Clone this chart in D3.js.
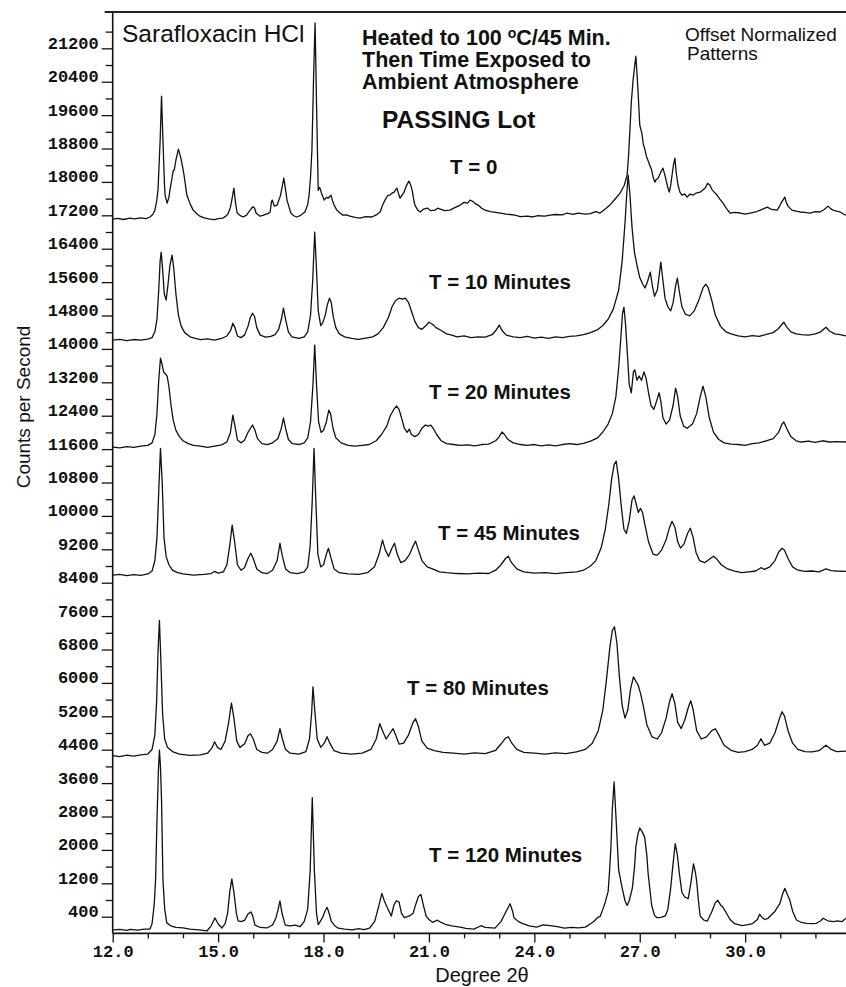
<!DOCTYPE html>
<html><head><meta charset="utf-8">
<script src="https://cdn.jsdelivr.net/npm/d3@7"></script>
<style>
  body { margin: 0; background: #fff; }
  svg { display: block; }
</style>
</head><body>
<svg id="chart" width="846" height="987"></svg>
<script>
// Powder X-ray diffraction patterns: [2θ (degrees), counts above the pattern's own baseline].
// Each pattern is drawn raised by its offset (counts per second).
const patternT0 = [[12.01,0],[12.15,15],[12.3,-10],[12.49,25],[12.62,5],[12.8,30],[12.95,10],[13.06,50],[13.14,110],[13.2,215],[13.25,420],[13.29,700],[13.35,1890],[13.39,2945],[13.43,1890],[13.47,900],[13.49,575],[13.55,380],[13.6,520],[13.63,700],[13.69,990],[13.72,1150],[13.75,1175],[13.8,1415],[13.87,1675],[13.94,1460],[14.0,1200],[14.03,1055],[14.11,575],[14.2,370],[14.29,215],[14.4,120],[14.48,70],[14.6,30],[14.77,0],[14.9,-15],[15.0,10],[15.14,25],[15.22,70],[15.28,120],[15.35,280],[15.4,500],[15.45,740],[15.49,430],[15.54,145],[15.62,90],[15.71,50],[15.81,95],[15.91,215],[15.99,295],[16.04,260],[16.08,145],[16.19,70],[16.28,90],[16.36,120],[16.42,130],[16.48,170],[16.52,420],[16.54,455],[16.6,310],[16.68,335],[16.77,550],[16.83,800],[16.87,980],[16.92,700],[16.96,455],[17.07,145],[17.15,80],[17.24,50],[17.35,90],[17.47,170],[17.55,350],[17.59,580],[17.63,1000],[17.67,1650],[17.72,3500],[17.76,4700],[17.8,2800],[17.85,685],[17.88,760],[17.9,740],[17.95,600],[18.02,455],[18.08,520],[18.13,500],[18.21,575],[18.26,430],[18.3,335],[18.38,215],[18.46,150],[18.55,95],[18.65,100],[18.75,70],[18.9,40],[19.04,25],[19.2,60],[19.38,50],[19.5,100],[19.61,170],[19.68,330],[19.75,455],[19.82,560],[19.89,575],[19.95,620],[20.01,645],[20.05,700],[20.09,740],[20.13,620],[20.18,500],[20.24,580],[20.29,645],[20.36,800],[20.43,910],[20.48,820],[20.52,700],[20.56,500],[20.6,335],[20.68,220],[20.75,170],[20.85,240],[20.95,265],[21.05,200],[21.17,215],[21.25,260],[21.32,240],[21.45,200],[21.6,215],[21.75,280],[21.89,335],[22.0,400],[22.1,380],[22.17,455],[22.25,420],[22.32,370],[22.4,335],[22.5,260],[22.6,215],[22.75,180],[22.9,160],[23.03,145],[23.2,120],[23.45,95],[23.6,60],[23.8,70],[23.96,50],[24.1,80],[24.3,70],[24.45,95],[24.6,110],[24.8,100],[24.93,145],[25.1,110],[25.25,140],[25.44,120],[25.6,130],[25.75,180],[25.87,145],[26.0,230],[26.15,335],[26.3,480],[26.44,620],[26.56,810],[26.64,1050],[26.68,1500],[26.72,2125],[26.76,2800],[26.81,3325],[26.86,3700],[26.89,3900],[26.92,3500],[26.95,3090],[27.0,2255],[27.03,2150],[27.06,2060],[27.1,1800],[27.15,1655],[27.19,1500],[27.23,1415],[27.28,1300],[27.34,1175],[27.38,1000],[27.43,885],[27.47,950],[27.52,980],[27.56,1050],[27.6,1125],[27.66,1220],[27.7,1100],[27.75,935],[27.8,750],[27.84,645],[27.88,800],[27.92,1055],[27.96,1300],[28.0,1460],[28.04,1100],[28.09,810],[28.14,650],[28.2,575],[28.28,600],[28.35,525],[28.43,600],[28.52,575],[28.6,620],[28.72,645],[28.8,700],[28.86,740],[28.93,860],[29.0,810],[29.06,700],[29.12,645],[29.2,575],[29.28,480],[29.37,380],[29.47,250],[29.57,145],[29.7,160],[29.86,145],[30.0,120],[30.14,145],[30.3,170],[30.43,215],[30.53,250],[30.63,285],[30.75,230],[30.91,215],[30.97,290],[31.02,380],[31.08,460],[31.13,525],[31.17,400],[31.22,310],[31.33,215],[31.45,190],[31.56,170],[31.7,160],[31.84,145],[32.0,180],[32.13,170],[32.25,230],[32.36,310],[32.43,250],[32.5,215],[32.6,190],[32.7,170],[32.8,120],[32.87,95]];

const patternT10 = [[12.01,0],[12.2,20],[12.4,-10],[12.6,15],[12.8,0],[13.0,25],[13.12,60],[13.2,200],[13.26,500],[13.31,1200],[13.35,1900],[13.38,2110],[13.42,1700],[13.47,1100],[13.52,960],[13.57,1300],[13.63,1800],[13.69,2035],[13.74,1700],[13.8,1100],[13.87,600],[13.95,330],[14.05,180],[14.2,80],[14.35,40],[14.5,10],[14.7,30],[14.9,0],[15.1,40],[15.25,100],[15.35,220],[15.42,405],[15.48,300],[15.55,100],[15.65,60],[15.75,120],[15.85,330],[15.92,550],[15.98,645],[16.04,560],[16.1,300],[16.2,120],[16.35,70],[16.5,90],[16.62,130],[16.72,250],[16.8,500],[16.86,765],[16.92,500],[17.0,200],[17.1,80],[17.3,40],[17.45,80],[17.55,200],[17.63,600],[17.69,1400],[17.75,2585],[17.8,1700],[17.85,700],[17.92,350],[17.98,420],[18.05,600],[18.11,850],[18.17,1005],[18.22,900],[18.28,550],[18.35,300],[18.45,150],[18.6,80],[18.8,40],[19.0,20],[19.2,50],[19.4,80],[19.55,150],[19.7,300],[19.85,550],[19.95,800],[20.05,950],[20.15,1005],[20.25,980],[20.33,1005],[20.42,900],[20.5,700],[20.6,450],[20.7,300],[20.8,260],[20.92,350],[21.0,430],[21.1,380],[21.2,300],[21.35,230],[21.5,150],[21.65,120],[21.8,80],[22.0,100],[22.2,60],[22.4,80],[22.6,70],[22.8,130],[22.92,250],[23.0,360],[23.08,230],[23.2,120],[23.4,80],[23.6,60],[23.8,90],[24.0,50],[24.2,70],[24.4,40],[24.6,80],[24.8,60],[25.0,90],[25.2,100],[25.4,130],[25.6,180],[25.8,250],[25.95,350],[26.1,500],[26.25,750],[26.4,1200],[26.5,1900],[26.58,2800],[26.63,3500],[26.67,3950],[26.72,3500],[26.78,2700],[26.85,2100],[26.92,1800],[27.0,1500],[27.08,1350],[27.15,1250],[27.22,1400],[27.3,1630],[27.36,1300],[27.42,1050],[27.5,1200],[27.56,1600],[27.6,1870],[27.65,1500],[27.72,1000],[27.8,800],[27.88,700],[27.95,900],[28.02,1300],[28.07,1485],[28.12,1200],[28.2,800],[28.3,620],[28.42,580],[28.55,700],[28.7,1000],[28.8,1250],[28.88,1340],[28.95,1250],[29.05,950],[29.15,600],[29.3,330],[29.45,200],[29.6,150],[29.8,100],[30.0,80],[30.2,110],[30.4,90],[30.6,140],[30.8,180],[30.95,280],[31.05,380],[31.1,430],[31.17,330],[31.3,200],[31.45,150],[31.6,130],[31.8,120],[32.0,150],[32.15,200],[32.3,310],[32.4,220],[32.55,150],[32.7,130],[32.87,100]];

const patternT20 = [[12.01,0],[12.2,-20],[12.4,10],[12.6,-10],[12.8,20],[13.0,40],[13.12,100],[13.2,300],[13.26,800],[13.31,1600],[13.36,2130],[13.4,2000],[13.45,1800],[13.5,1750],[13.55,1700],[13.6,1450],[13.66,1000],[13.72,650],[13.8,400],[13.9,250],[14.0,150],[14.15,80],[14.3,40],[14.5,20],[14.7,-10],[14.9,20],[15.1,50],[15.25,120],[15.35,350],[15.42,766],[15.48,500],[15.55,170],[15.65,100],[15.75,160],[15.85,350],[15.92,450],[15.98,527],[16.05,400],[16.12,200],[16.25,80],[16.4,60],[16.55,100],[16.7,200],[16.8,450],[16.86,695],[16.92,450],[17.0,180],[17.12,80],[17.3,60],[17.45,100],[17.55,220],[17.63,600],[17.7,1500],[17.75,2443],[17.8,1500],[17.86,600],[17.93,350],[18.0,400],[18.08,600],[18.15,886],[18.2,800],[18.27,450],[18.35,220],[18.5,100],[18.7,40],[18.9,20],[19.1,40],[19.3,60],[19.5,150],[19.65,300],[19.8,500],[19.9,750],[20.0,900],[20.08,982],[20.15,900],[20.22,700],[20.3,450],[20.38,350],[20.44,430],[20.5,300],[20.6,250],[20.7,300],[20.8,450],[20.9,527],[20.98,500],[21.05,527],[21.12,450],[21.22,300],[21.35,150],[21.5,80],[21.7,60],[21.9,40],[22.1,50],[22.3,30],[22.5,60],[22.7,70],[22.9,150],[23.0,250],[23.08,360],[23.15,300],[23.25,180],[23.4,100],[23.6,60],[23.8,40],[24.0,60],[24.2,30],[24.4,50],[24.6,30],[24.8,60],[25.0,80],[25.2,60],[25.4,90],[25.6,140],[25.8,220],[25.95,360],[26.1,550],[26.22,800],[26.32,1200],[26.4,1900],[26.46,2600],[26.51,3200],[26.55,3353],[26.6,2900],[26.65,2200],[26.7,1500],[26.76,1300],[26.82,1800],[26.86,1850],[26.92,1600],[26.98,1700],[27.05,1600],[27.12,1800],[27.18,1650],[27.25,1300],[27.32,1000],[27.4,900],[27.48,1100],[27.55,1300],[27.6,1100],[27.66,700],[27.75,550],[27.85,650],[27.95,1000],[28.02,1413],[28.08,1200],[28.15,750],[28.25,500],[28.35,450],[28.5,550],[28.62,800],[28.72,1200],[28.8,1460],[28.88,1200],[28.98,700],[29.1,350],[29.25,180],[29.4,100],[29.6,70],[29.8,60],[30.0,40],[30.2,80],[30.4,100],[30.6,150],[30.8,200],[30.95,350],[31.05,550],[31.1,600],[31.18,450],[31.3,250],[31.45,150],[31.6,120],[31.8,140],[32.0,110],[32.2,150],[32.4,120],[32.6,130],[32.87,120]];

const patternT45 = [[12.01,0],[12.2,20],[12.4,-10],[12.6,15],[12.8,-5],[13.0,30],[13.12,100],[13.2,350],[13.26,900],[13.31,2000],[13.36,3040],[13.41,2200],[13.46,900],[13.52,450],[13.6,250],[13.7,120],[13.85,60],[14.0,30],[14.3,0],[14.6,20],[14.8,40],[14.9,90],[15.0,50],[15.15,80],[15.25,250],[15.33,700],[15.4,1200],[15.47,800],[15.55,250],[15.65,120],[15.75,180],[15.85,400],[15.93,525],[16.0,400],[16.1,150],[16.25,60],[16.4,40],[16.55,120],[16.68,350],[16.76,765],[16.83,450],[16.92,150],[17.05,60],[17.25,40],[17.45,80],[17.55,200],[17.62,700],[17.68,1800],[17.73,3040],[17.78,1800],[17.84,500],[17.92,200],[18.0,250],[18.08,500],[18.14,645],[18.2,450],[18.3,150],[18.45,60],[18.7,30],[19.0,20],[19.25,60],[19.45,200],[19.58,500],[19.68,840],[19.76,600],[19.85,450],[19.95,650],[20.02,765],[20.1,500],[20.2,300],[20.32,350],[20.45,500],[20.55,700],[20.62,815],[20.7,600],[20.8,350],[20.95,200],[21.1,150],[21.3,80],[21.5,60],[21.8,40],[22.1,30],[22.4,50],[22.7,40],[22.9,120],[23.05,250],[23.18,400],[23.26,455],[23.35,300],[23.5,150],[23.7,80],[24.0,50],[24.3,60],[24.6,40],[24.9,60],[25.2,80],[25.4,120],[25.6,220],[25.75,350],[25.9,650],[26.02,1100],[26.12,1700],[26.2,2300],[26.27,2650],[26.33,2730],[26.4,2300],[26.48,1600],[26.55,1100],[26.62,1000],[26.7,1300],[26.78,1800],[26.84,1900],[26.9,1700],[26.96,1500],[27.02,1600],[27.08,1500],[27.15,1200],[27.25,800],[27.38,500],[27.5,480],[27.62,600],[27.75,850],[27.85,1150],[27.92,1290],[28.0,1150],[28.08,800],[28.16,650],[28.26,750],[28.36,1000],[28.44,1125],[28.52,900],[28.6,550],[28.7,350],[28.85,300],[28.98,380],[29.1,455],[29.2,380],[29.32,250],[29.5,150],[29.7,100],[29.9,60],[30.1,80],[30.3,100],[30.45,180],[30.55,140],[30.7,200],[30.85,350],[30.95,550],[31.05,645],[31.12,600],[31.22,400],[31.35,200],[31.5,120],[31.7,90],[31.9,100],[32.1,80],[32.3,150],[32.45,110],[32.6,100],[32.87,90]];

const patternT80 = [[12.01,0],[12.2,-20],[12.4,15],[12.6,-10],[12.8,20],[13.0,40],[13.12,150],[13.2,500],[13.25,1300],[13.29,2500],[13.33,3240],[13.37,2300],[13.42,1000],[13.48,400],[13.56,200],[13.7,100],[13.9,40],[14.2,10],[14.5,20],[14.7,60],[14.82,180],[14.9,335],[14.98,200],[15.08,150],[15.2,350],[15.3,800],[15.38,1262],[15.45,900],[15.53,350],[15.62,200],[15.75,280],[15.85,480],[15.92,527],[16.0,400],[16.1,150],[16.25,80],[16.4,60],[16.55,150],[16.68,350],[16.76,647],[16.83,400],[16.92,150],[17.05,60],[17.3,40],[17.5,100],[17.6,400],[17.66,1000],[17.7,1650],[17.75,1100],[17.82,400],[17.92,200],[18.02,300],[18.1,455],[18.18,300],[18.3,120],[18.5,60],[18.8,40],[19.1,60],[19.35,150],[19.5,400],[19.6,766],[19.68,600],[19.78,400],[19.9,550],[19.98,647],[20.05,500],[20.15,280],[20.28,300],[20.42,500],[20.55,800],[20.62,886],[20.7,700],[20.8,350],[20.95,180],[21.15,120],[21.4,80],[21.7,60],[22.0,40],[22.3,70],[22.6,50],[22.9,130],[23.05,280],[23.18,420],[23.26,455],[23.36,300],[23.5,150],[23.7,80],[24.0,60],[24.3,40],[24.6,70],[24.9,50],[25.2,90],[25.45,150],[25.65,300],[25.82,600],[25.95,1100],[26.05,1800],[26.15,2600],[26.22,3000],[26.28,3090],[26.35,2700],[26.42,1900],[26.5,1200],[26.58,900],[26.66,1100],[26.74,1600],[26.82,1890],[26.88,1800],[26.95,1700],[27.02,1500],[27.1,1200],[27.2,750],[27.35,450],[27.5,400],[27.62,550],[27.75,900],[27.85,1300],[27.92,1485],[28.0,1250],[28.08,800],[28.18,650],[28.28,850],[28.38,1150],[28.45,1317],[28.52,1100],[28.62,600],[28.75,400],[28.9,450],[29.05,600],[29.15,647],[29.25,500],[29.4,250],[29.6,130],[29.8,80],[30.0,100],[30.2,150],[30.35,250],[30.45,407],[30.55,250],[30.7,300],[30.85,550],[30.98,900],[31.05,1054],[31.12,950],[31.22,600],[31.35,300],[31.5,150],[31.7,100],[31.9,90],[32.1,120],[32.3,250],[32.45,150],[32.6,100],[32.87,110]];

const patternT120 = [[12.01,0],[12.2,15],[12.4,-10],[12.5,13],[12.7,-5],[12.9,20],[13.06,23],[13.12,150],[13.18,600],[13.22,1200],[13.26,2630],[13.3,3800],[13.33,4310],[13.36,3900],[13.39,3110],[13.43,1200],[13.48,500],[13.54,170],[13.65,100],[13.8,60],[14.0,48],[14.2,20],[14.45,0],[14.68,-24],[14.8,100],[14.91,288],[15.0,150],[15.11,48],[15.2,150],[15.27,400],[15.33,900],[15.39,1223],[15.45,900],[15.52,400],[15.57,218],[15.66,200],[15.76,238],[15.85,380],[15.93,433],[15.98,350],[16.05,118],[16.2,60],[16.39,48],[16.55,120],[16.65,300],[16.71,500],[16.76,698],[16.82,400],[16.91,118],[17.05,100],[17.19,118],[17.33,78],[17.45,200],[17.55,500],[17.62,1418],[17.68,3170],[17.74,1418],[17.8,400],[17.85,126],[17.97,294],[18.04,450],[18.1,543],[18.16,400],[18.22,210],[18.32,100],[18.42,43],[18.6,20],[18.82,2],[19.0,30],[19.15,10],[19.31,43],[19.46,210],[19.58,600],[19.66,876],[19.73,700],[19.81,543],[19.93,335],[20.0,586],[20.07,700],[20.15,668],[20.22,400],[20.3,294],[20.45,335],[20.55,400],[20.62,600],[20.7,800],[20.77,852],[20.84,600],[20.92,335],[21.0,250],[21.1,184],[21.24,234],[21.35,180],[21.49,126],[21.65,100],[21.89,69],[22.05,40],[22.28,19],[22.48,102],[22.6,60],[22.88,43],[23.05,200],[23.18,418],[23.31,627],[23.38,450],[23.42,294],[23.55,200],[23.67,153],[23.85,100],[24.07,69],[24.25,120],[24.46,102],[24.65,80],[24.86,43],[25.05,60],[25.25,50],[25.45,69],[25.6,150],[25.7,210],[25.8,300],[25.87,318],[25.95,500],[26.01,639],[26.06,800],[26.1,918],[26.14,1400],[26.18,2003],[26.22,2900],[26.27,3548],[26.33,2600],[26.4,1431],[26.5,1003],[26.58,700],[26.64,586],[26.7,700],[26.79,1003],[26.85,1500],[26.89,2003],[26.95,2300],[27.0,2443],[27.07,2350],[27.14,2218],[27.2,1800],[27.24,1336],[27.34,586],[27.42,350],[27.49,294],[27.6,300],[27.73,335],[27.8,500],[27.88,1003],[27.95,1600],[28.01,2068],[28.07,1800],[28.13,1336],[28.2,900],[28.28,790],[28.38,752],[28.45,1100],[28.53,1585],[28.58,1400],[28.62,1168],[28.67,700],[28.72,335],[28.82,239],[28.92,210],[29.05,438],[29.15,650],[29.22,711],[29.3,600],[29.37,543],[29.47,400],[29.57,251],[29.7,150],[29.91,102],[30.05,120],[30.21,153],[30.35,250],[30.41,378],[30.48,300],[30.56,251],[30.65,280],[30.71,335],[30.85,450],[30.99,639],[31.06,850],[31.13,998],[31.2,850],[31.27,718],[31.35,450],[31.46,239],[31.6,180],[31.75,160],[31.9,150],[32.03,160],[32.15,220],[32.22,280],[32.35,220],[32.51,198],[32.63,220],[32.75,198],[32.87,280]];

const patterns = [patternT0, patternT10, patternT20, patternT45, patternT80, patternT120];
const patternOffsets = [17110, 14210, 11650, 8580, 4256, 82];
const patternLabels = ["T = 0", "T = 10 Minutes", "T = 20 Minutes", "T = 45 Minutes", "T = 80 Minutes", "T = 120 Minutes"];

// Axis ticks
const yLabelTicks = [400,1200,2000,2800,3600,4400,5200,6000,6800,7600,8400,9200,10000,10800,11600,12400,13200,14000,14800,15600,16400,17200,18000,18800,19600,20400,21200];
const yMinorTicks = [800,1600,2400,3200,4000,4800,5600,6400,7200,8000,8800,9600,10400,11200,12000,12800,13600,14400,15200,16000,16800,17600,18400,19200,20000,20800,21600];
const xLabelTicks = [12,15,18,21,24,27,30];
const xMinorTicks = [13,14,16,17,19,20,22,23,25,26,28,29,31,32];

const svg = d3.select("#chart");
const plot = { left: 112.7, top: 12, bottom: 933.4, right: 846 };

const x = d3.scaleLinear().domain([12, 32.87]).range([plot.left, plot.right]);
const y = d3.scaleLinear().domain([0, 22070]).range([plot.bottom, plot.top]);

const monoFont = "'Liberation Mono', 'Courier New', monospace";
const sansFont = "'Liberation Sans', Arial, Helvetica, sans-serif";

// Y axis: labelled ticks and shorter unlabelled ticks
const yMajor = svg.append("g").attr("transform", `translate(${plot.left},0)`)
  .call(d3.axisLeft(y).tickValues(yLabelTicks).tickSize(11).tickPadding(3).tickFormat(d3.format("d")));
yMajor.selectAll("text").attr("dy", "0em")
  .style("font-family", monoFont).style("font-weight", "bold").style("font-size", "17px").attr("fill", "#111");
svg.append("g").attr("transform", `translate(${plot.left},0)`)
  .call(d3.axisLeft(y).tickValues(yMinorTicks).tickSize(7).tickFormat(""));

// X axis
const xMajor = svg.append("g").attr("transform", `translate(0,${plot.bottom})`)
  .call(d3.axisBottom(x).tickValues(xLabelTicks).tickSize(9).tickPadding(3).tickFormat(d3.format(".1f")));
xMajor.selectAll("text")
  .style("font-family", monoFont).style("font-weight", "bold").style("font-size", "17px").attr("fill", "#111");
svg.append("g").attr("transform", `translate(0,${plot.bottom})`)
  .call(d3.axisBottom(x).tickValues(xMinorTicks).tickSize(5).tickFormat(""));

svg.selectAll(".domain").remove();
svg.selectAll(".tick line").attr("stroke", "#111").attr("stroke-width", 1.3);

// Frame lines: left axis, bottom axis, top rule
svg.append("line").attr("x1", plot.left).attr("x2", plot.left).attr("y1", plot.top).attr("y2", plot.bottom)
  .attr("stroke", "#111").attr("stroke-width", 1.6);
svg.append("line").attr("x1", plot.left).attr("x2", plot.right).attr("y1", plot.bottom).attr("y2", plot.bottom)
  .attr("stroke", "#111").attr("stroke-width", 1.6);
svg.append("line").attr("x1", plot.left - 8).attr("x2", plot.right).attr("y1", plot.top).attr("y2", plot.top)
  .attr("stroke", "#222").attr("stroke-width", 1.8);

// Patterns, each raised by its offset
const line = d3.line().x(d => x(d[0])).y(d => y(d[1]));
svg.append("g").selectAll("path")
  .data(patterns.map((p, i) => p.map(([t, v]) => [t, v + patternOffsets[i]])))
  .join("path")
  .attr("d", line).attr("fill", "none").attr("stroke", "#111").attr("stroke-width", 1.3)
  .attr("stroke-linejoin", "round");

// Pattern labels
const labelPos = [[450, 174], [429, 289], [429, 399], [438, 540], [407, 695], [429, 862]];
svg.append("g").selectAll("text").data(patternLabels).join("text")
  .attr("x", (d, i) => labelPos[i][0]).attr("y", (d, i) => labelPos[i][1])
  .text(d => d)
  .style("font-family", sansFont).style("font-weight", "bold").style("font-size", "20.5px").attr("fill", "#111");

// Titles and notes
svg.append("text").attr("x", 122).attr("y", 42).text("Sarafloxacin HCl")
  .style("font-family", sansFont).style("font-size", "24.5px").attr("fill", "#111");

const heated = svg.append("text").attr("x", 362).attr("y", 45)
  .style("font-family", sansFont).style("font-weight", "bold").style("font-size", "21.5px").attr("fill", "#111");
heated.append("tspan").text("Heated to 100 ");
heated.append("tspan").attr("dy", -7).style("font-size", "14px").text("o");
heated.append("tspan").attr("dy", 7).text("C/45 Min.");
svg.append("text").attr("x", 362).attr("y", 67).text("Then Time Exposed to")
  .style("font-family", sansFont).style("font-weight", "bold").style("font-size", "21.5px").attr("fill", "#111");
svg.append("text").attr("x", 362).attr("y", 89).text("Ambient Atmosphere")
  .style("font-family", sansFont).style("font-weight", "bold").style("font-size", "21.5px").attr("fill", "#111");

svg.append("text").attr("x", 382).attr("y", 128).text("PASSING Lot")
  .style("font-family", sansFont).style("font-weight", "bold").style("font-size", "24.5px").attr("fill", "#111");

svg.append("text").attr("x", 685).attr("y", 41).text("Offset Normalized")
  .style("font-family", sansFont).style("font-size", "19px").attr("fill", "#111");
svg.append("text").attr("x", 687).attr("y", 60).text("Patterns")
  .style("font-family", sansFont).style("font-size", "19px").attr("fill", "#111");

// Axis titles
svg.append("text").attr("transform", "translate(30,407) rotate(-90)").attr("text-anchor", "middle")
  .text("Counts per Second")
  .style("font-family", sansFont).style("font-size", "19px").attr("fill", "#111");
svg.append("text").attr("x", 482).attr("y", 982).attr("text-anchor", "middle")
  .text("Degree 2θ")
  .style("font-family", sansFont).style("font-size", "20px").attr("fill", "#111");
</script>
</body></html>
